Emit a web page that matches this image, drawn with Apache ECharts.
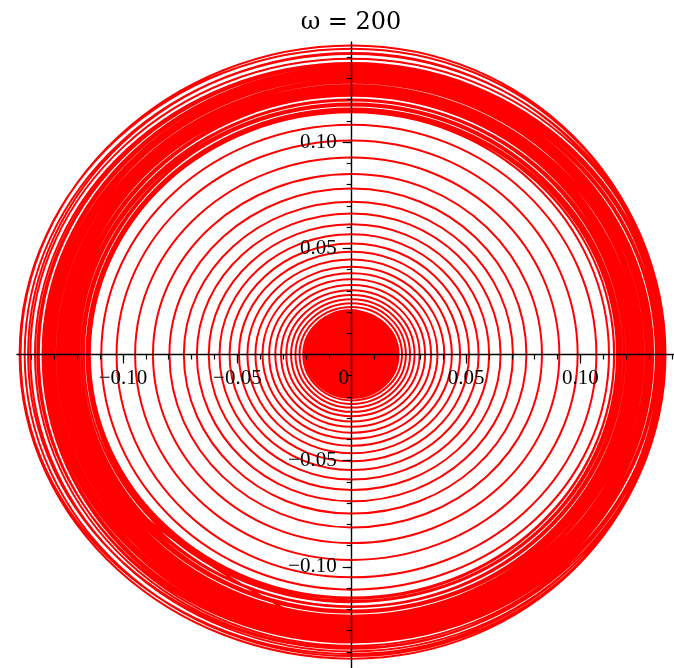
<!DOCTYPE html>
<html><head><meta charset="utf-8">
<script src="https://cdn.jsdelivr.net/npm/echarts@6/dist/echarts.min.js"></script>
<style>html,body{margin:0;padding:0;background:#fff}#c{width:674px;height:668px}</style>
</head><body><div id="c"></div>
<script>
// ---- chart data ----
const titleText = 'ω = 200';
const xLabelTicks = [-0.10, -0.05, 0, 0.05, 0.10];
const yLabelTicks = [-0.10, -0.05, 0.05, 0.10];
const majorTicks = [-0.10, -0.05, 0.05, 0.10];
const minorTicks = [-0.14,-0.13,-0.12,-0.11,-0.10,-0.09,-0.08,-0.07,-0.06,-0.05,-0.04,-0.03,-0.02,-0.01,
                    0.01,0.02,0.03,0.04,0.05,0.06,0.07,0.08,0.09,0.10,0.11,0.12,0.13,0.14];
// solidly filled core of the spiral (outer radius)
const coreRadius = 0.0205;
// spiral radius at each quarter turn, rows = turns: [+x, +y, -x, -y]
const growthTurns = [
  [0.0205,0.0209,0.0212,0.0216],[0.0220,0.0224,0.0228,0.0233],[0.0237,0.0241,0.0246,0.0250],
  [0.0255,0.0260,0.0265,0.0270],[0.0275,0.0280,0.0286,0.0291],[0.0297,0.0303,0.0309,0.0315],
  [0.0321,0.0327,0.0334,0.0340],[0.0347,0.0354,0.0361,0.0368],[0.0375,0.0382,0.0390,0.0397],
  [0.0405,0.0413,0.0421,0.0430],[0.0438,0.0447,0.0456,0.0465],[0.0474,0.0484,0.0493,0.0503],
  [0.0513,0.0523,0.0534,0.0544],[0.0555,0.0566,0.0578,0.0589],[0.0601,0.0613,0.0625,0.0638],
  [0.0651,0.0664,0.0677,0.0691],[0.0705,0.0719,0.0734,0.0749],[0.0764,0.0781,0.0797,0.0814],
  [0.0832,0.0850,0.0869,0.0888],[0.0908,0.0927,0.0947,0.0967],[0.0988,0.1008,0.1028,0.1049],
  [0.1070,0.1082,0.1095,0.1107]
];
const bandTurns = [
  [0.1125,0.1140,0.1152,0.1160],[0.1165,0.1172,0.1180,0.1186],[0.1190,0.1196,0.1202,0.1208],
  [0.1212,0.1218,0.1224,0.1230],[0.1234,0.1240,0.1246,0.1250],[0.1255,0.1261,0.1267,0.1272],
  [0.1276,0.1282,0.1288,0.1293],[0.1297,0.1303,0.1309,0.1313],[0.1317,0.1323,0.1330,0.1334],
  [0.1338,0.1345,0.1352,0.1356],[0.1355,0.1362,0.1368,0.1372],[0.1360,0.1352,0.1350,0.1344],
  [0.1336,0.1330,0.1326,0.1320],[0.1314,0.1308,0.1303,0.1298],[0.1292,0.1286,0.1281,0.1275],
  [0.1269,0.1264,0.1258,0.1252],[0.1247,0.1241,0.1236,0.1230],[0.1225,0.1219,0.1214,0.1208],
  [0.1203,0.1197,0.1192,0.1186],[0.1181,0.1176,0.1171,0.1166],[0.1161,0.1157,0.1153,0.1150],
  [0.1148,0.1146,0.1145,0.1144],[0.1147,0.1152,0.1158,0.1163],[0.1169,0.1175,0.1183,0.1189],
  [0.1194,0.1200,0.1206,0.1211],[0.1216,0.1222,0.1229,0.1235],[0.1240,0.1245,0.1251,0.1257],
  [0.1262,0.1268,0.1274,0.1280],[0.1285,0.1291,0.1298,0.1304],[0.1310,0.1316,0.1322,0.1328],
  [0.1333,0.1340,0.1348,0.1355],[0.1360,0.1372,0.1385,0.1382],[0.1368,0.1392,0.1405,0.1398],
  [0.1372,0.1415,0.1430,0.1420],[0.1370,0.1440,0.1452,0.1432],[0.1365,0.1455,0.1448,0.1410],
  [0.1358,0.1420,0.1415,0.1385],[0.1345,0.1370,0.1375,0.1355],[0.1330,0.1340,0.1338,0.1325],
  [0.1318,0.1312,0.1306,0.1294],[0.1287,0.1280,0.1272,0.1264],[0.1258,0.1250,0.1243,0.1236],
  [0.1229,0.1222,0.1215,0.1209],[0.1203,0.1198,0.1192,0.1186],[0.1180,0.1176,0.1171,0.1166],
  [0.1160,0.1158,0.1160,0.1165],[0.1172,0.1182,0.1195,0.1205],[0.1212,0.1220,0.1228,0.1236],
  [0.1243,0.1251,0.1259,0.1266],[0.1273,0.1281,0.1289,0.1296],[0.1303,0.1311,0.1319,0.1326],
  [0.1332,0.1339,0.1345,0.1350],[0.1352,0.1350,0.1346,0.1340],[0.1334,0.1326,0.1318,0.1310],
  [0.1301,0.1293,0.1285,0.1277],[0.1268,0.1260,0.1252,0.1244],[0.1236,0.1228,0.1220,0.1213],
  [0.1206,0.1199,0.1193,0.1188],[0.1192,0.1199,0.1207,0.1215],[0.1224,0.1233,0.1242,0.1251],
  [0.1260,0.1269,0.1278,0.1287],[0.1296,0.1305,0.1314,0.1322],[0.1330,0.1337,0.1343,0.1349]
];

// ---- build line data: quarter-turn crossings on the four half-axes ----
function crossing(r, q) {
  switch (q) {
    case 0: return [r, 0];
    case 1: return [0, r];
    case 2: return [-r, 0];
    default: return [0, -r];
  }
}
const spiralData = [];
growthTurns.concat(bandTurns).forEach(turn => turn.forEach((r, q) => spiralData.push(crossing(r, q))));
// core outline: closed loop with a quarter of overlap at both ends
const coreData = [3, 0, 1, 2, 3, 0, 1].map(q => crossing(coreRadius, q));

const RED = '#ff0000';
const SMOOTH = 0.5523; // cubic-bezier circle approximation
const X_MIN = -0.14635, X_MAX = 0.14093, Y_MIN = -0.1476, Y_MAX = 0.14713;
const GRID = { left: 17, right: 0, top: 42, bottom: 0 };
const labelFont = { fontFamily: 'Liberation Serif', fontSize: 21, color: '#000' };
const tickLine = { color: '#000', width: 1.2 };

function fmt(v) {
  if (Math.abs(v) < 1e-9) return '{z|0}';
  return (v < 0 ? '\u2212' : '') + Math.abs(v).toFixed(2);
}

function mainAxis(min, max, pos, labelTicks, margin) {
  return {
    type: 'value', min, max, position: pos, z: 10, offset: 0,
    splitLine: { show: false },
    axisLine: { show: true, onZero: false, lineStyle: { color: '#000', width: 1.4 } },
    axisTick: { show: true, customValues: minorTicks, length: 5, lineStyle: tickLine },
    axisLabel: { show: true, customValues: labelTicks, margin, formatter: fmt, ...labelFont,
      rich: { z: { ...labelFont, padding: [0, 16, 0, 0] } } }
  };
}
function majorTickAxis(min, max, pos) {
  return {
    type: 'value', min, max, position: pos, z: 10, offset: 0,
    splitLine: { show: false },
    axisLine: { show: false, onZero: false },
    axisTick: { show: true, customValues: majorTicks, length: 9, lineStyle: tickLine },
    axisLabel: { show: false }
  };
}

const chart = echarts.init(document.getElementById('c'), null, { renderer: 'canvas' });
chart.setOption({
  animation: false,
  backgroundColor: '#fff',
  title: {
    text: titleText, left: 346, top: 6, textAlign: 'center',
    textStyle: { fontFamily: 'DejaVu Serif', fontSize: 24, fontWeight: 'normal', color: '#000' }
  },
  grid: { ...GRID, containLabel: false, outerBoundsMode: 'none' },
  xAxis: [mainAxis(X_MIN, X_MAX, 'bottom', xLabelTicks, 13), majorTickAxis(X_MIN, X_MAX, 'bottom')],
  yAxis: [mainAxis(Y_MIN, Y_MAX, 'left', yLabelTicks, 15), majorTickAxis(Y_MIN, Y_MAX, 'left')],
  series: [{
    type: 'line', xAxisIndex: 0, yAxisIndex: 0, data: coreData,
    smooth: SMOOTH, showSymbol: false, symbol: 'none', silent: true,
    lineStyle: { color: RED, width: 2 }, areaStyle: { color: RED, opacity: 1 }
  }, {
    type: 'line', xAxisIndex: 0, yAxisIndex: 0, data: spiralData,
    smooth: SMOOTH, showSymbol: false, symbol: 'none', silent: true,
    lineStyle: { color: RED, width: 2 }
  }]
});

// move the axes so that they cross at the data origin (0, 0)
const origin = chart.convertToPixel({ xAxisIndex: 0, yAxisIndex: 0 }, [0, 0]);
const xOff = origin[1] - (chart.getHeight() - GRID.bottom);
const yOff = GRID.left - origin[0];
chart.setOption({
  xAxis: [{ offset: xOff }, { offset: xOff }],
  yAxis: [{ offset: yOff }, { offset: yOff }]
});
</script>
</body></html>
